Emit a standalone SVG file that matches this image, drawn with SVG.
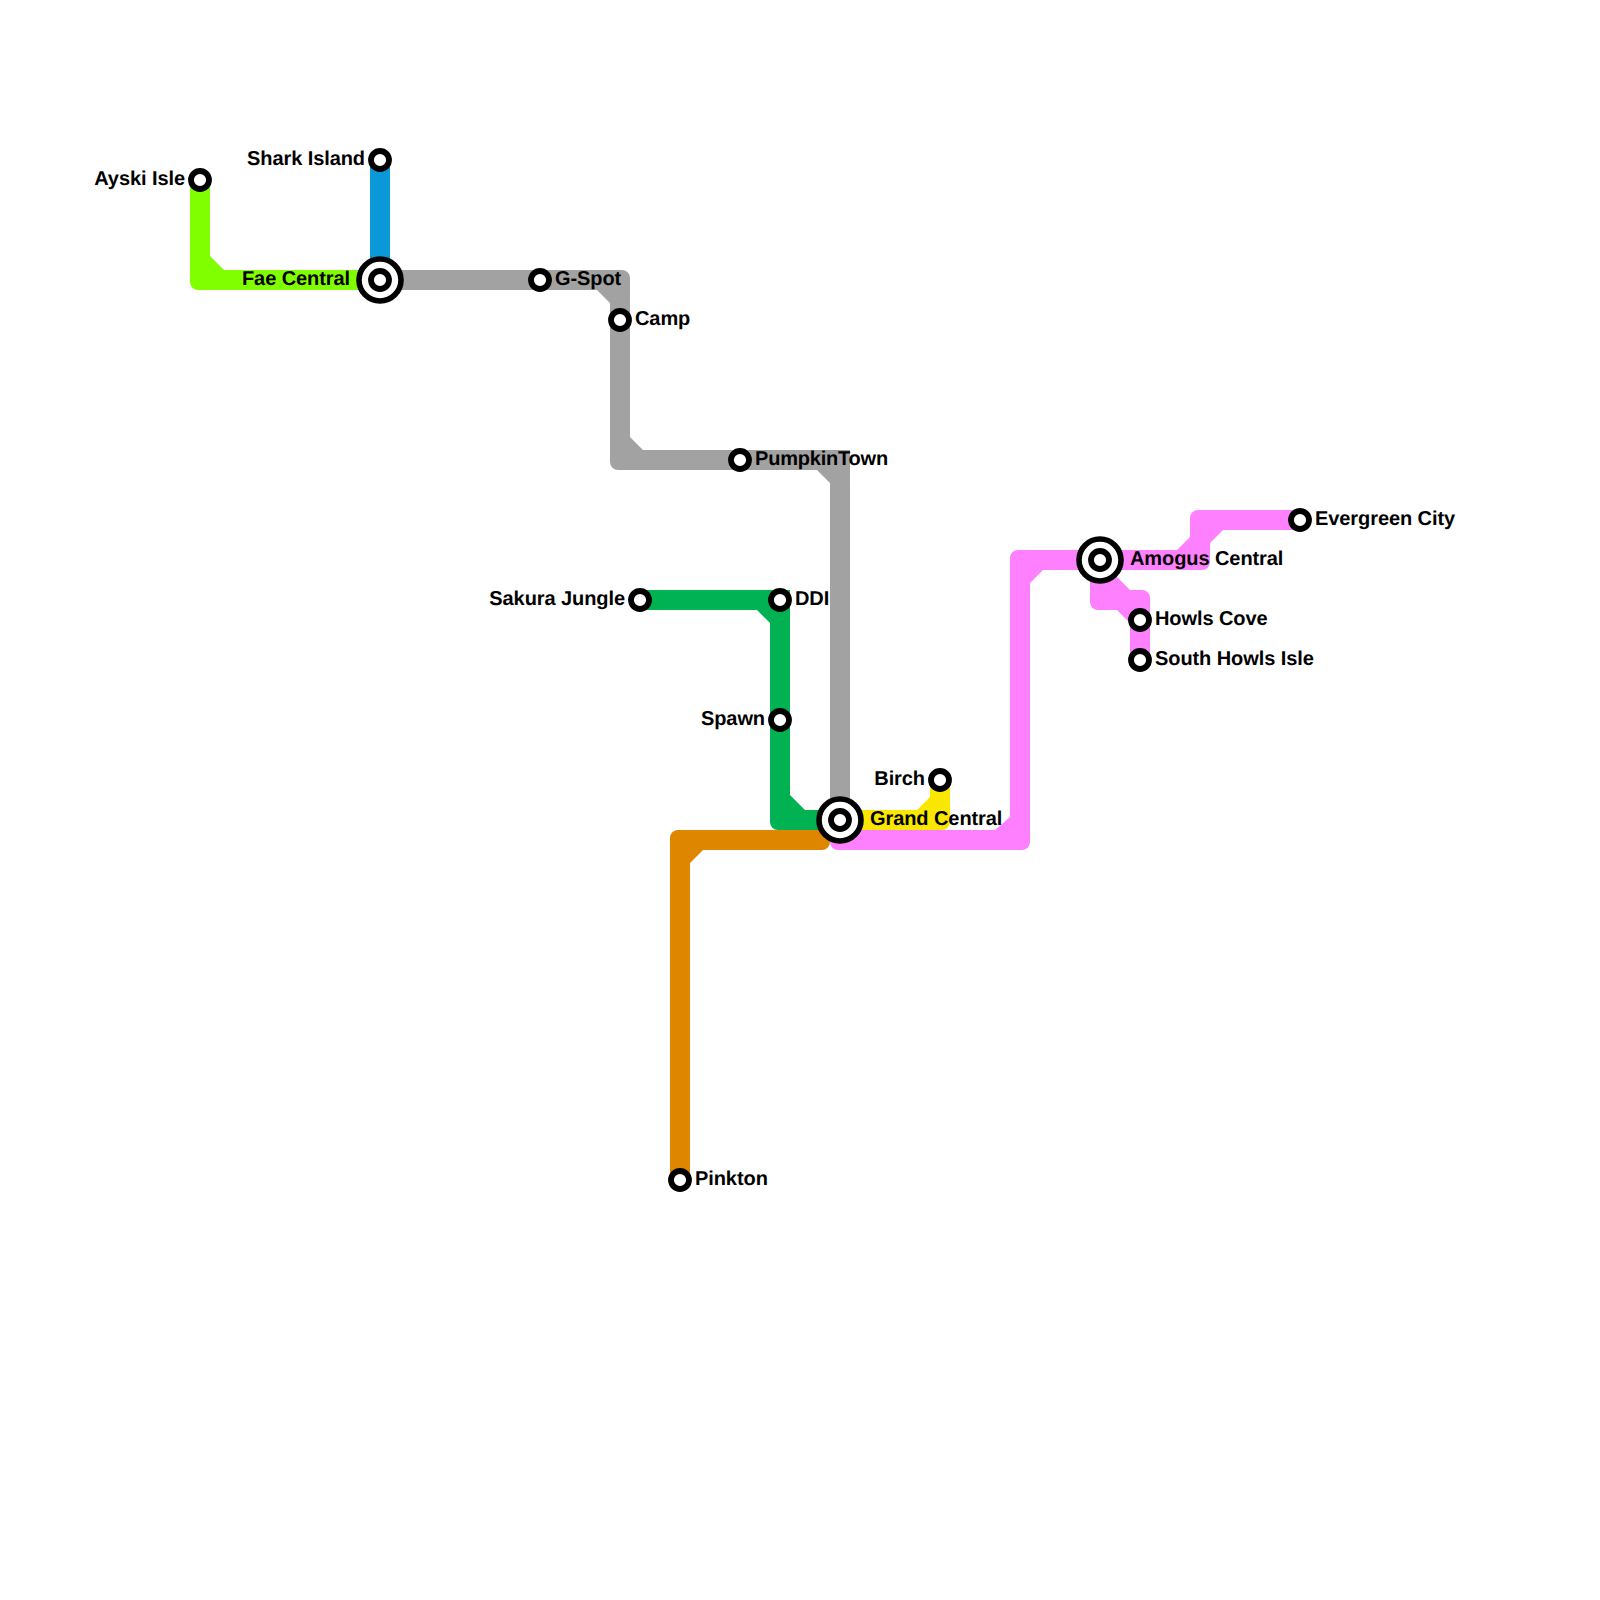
<svg xmlns="http://www.w3.org/2000/svg" width="1600" height="1600" viewBox="0 0 1600 1600">
<style>
.lime{fill:#80ff00}.blue{fill:#0a98d8}.gray{fill:#a2a2a2}.green{fill:#00b251}.orange{fill:#df8600}.yellow{fill:#fae700}.pink{fill:#ff80ff}
.st{fill:#fff;stroke:#000;stroke-width:5.8}
.ring{fill:#fff;stroke:#000;stroke-width:5.6}
text{font-family:"Liberation Sans",Arial,sans-serif;font-weight:700;font-size:20px;fill:#000;text-rendering:geometricPrecision;letter-spacing:-0.08px}
.e{text-anchor:end}
</style>
<rect width="1600" height="1600" fill="#fff"/>
<g id="connectors">
<path class="lime" d="M190 180V282A8 8 0 0 0 198 290H380V270H224L210 256V180Z"/>
<path class="blue" d="M370 160H390V280H370Z"/>
<path class="gray" d="M380 270H622A8 8 0 0 1 630 278V437L643 450H850V820H830V483L817 470H618A8 8 0 0 1 610 462V303L597 290H380Z"/>
<path class="green" d="M640 590H790V795L805 810H840V830H778A8 8 0 0 1 770 822V623L757 610H640Z"/>
<path class="orange" d="M678 830H840V835L830 842A8 8 0 0 1 822 850H703L690 863V1180H670V838A8 8 0 0 1 678 830Z"/>
<path class="yellow" d="M840 810H917L930 797V780H950V822A8 8 0 0 1 942 830H840Z"/>
<path class="pink" d="M840 830H995L1010 817V558A8 8 0 0 1 1018 550H1177L1190 537V518A8 8 0 0 1 1198 510H1300V530H1223L1210 543V562A8 8 0 0 1 1202 570H1043L1030 583V842A8 8 0 0 1 1022 850H838A8 8 0 0 1 830 842Z"/>
<path class="pink" d="M1090 560H1100L1130 590H1142A8 8 0 0 1 1150 598V660H1130V623L1117 610H1098A8 8 0 0 1 1090 602Z"/>
</g>
<g id="ayski-isle"><circle class="st" cx="200" cy="180" r="9"/><text class="e" x="185" y="184.5">Ayski Isle</text></g>
<g id="shark-island"><circle class="st" cx="380" cy="160" r="9"/><text class="e" x="365" y="164.5">Shark Island</text></g>
<g id="fae-central"><circle class="ring" cx="380" cy="280" r="21"/><circle class="st" cx="380" cy="280" r="9"/><text class="e" x="350" y="284.5">Fae Central</text></g>
<g id="g-spot"><circle class="st" cx="540" cy="280" r="9"/><text x="555" y="284.5">G-Spot</text></g>
<g id="camp"><circle class="st" cx="620" cy="320" r="9"/><text x="635" y="324.5">Camp</text></g>
<g id="pumpkintown"><circle class="st" cx="740" cy="460" r="9"/><text x="755" y="464.5" style="letter-spacing:-0.2px">PumpkinTown</text></g>
<g id="sakura-jungle"><circle class="st" cx="640" cy="600" r="9"/><text class="e" x="625" y="604.5">Sakura Jungle</text></g>
<g id="ddi"><circle class="st" cx="780" cy="600" r="9"/><text x="795" y="604.5">DDI</text></g>
<g id="spawn"><circle class="st" cx="780" cy="720" r="9"/><text class="e" x="765" y="724.5">Spawn</text></g>
<g id="birch"><circle class="st" cx="940" cy="780" r="9"/><text class="e" x="925" y="784.5">Birch</text></g>
<g id="grand-central"><circle class="ring" cx="840" cy="820" r="21"/><circle class="st" cx="840" cy="820" r="9"/><text x="870" y="824.5">Grand Central</text></g>
<g id="pinkton"><circle class="st" cx="680" cy="1180" r="9"/><text x="695" y="1184.5">Pinkton</text></g>
<g id="amogus-central"><circle class="ring" cx="1100" cy="560" r="21"/><circle class="st" cx="1100" cy="560" r="9"/><text x="1130" y="564.5">Amogus Central</text></g>
<g id="howls-cove"><circle class="st" cx="1140" cy="620" r="9"/><text x="1155" y="624.5">Howls Cove</text></g>
<g id="south-howls-isle"><circle class="st" cx="1140" cy="660" r="9"/><text x="1155" y="664.5">South Howls Isle</text></g>
<g id="evergreen-city"><circle class="st" cx="1300" cy="520" r="9"/><text x="1315" y="524.5">Evergreen City</text></g>
</svg>
